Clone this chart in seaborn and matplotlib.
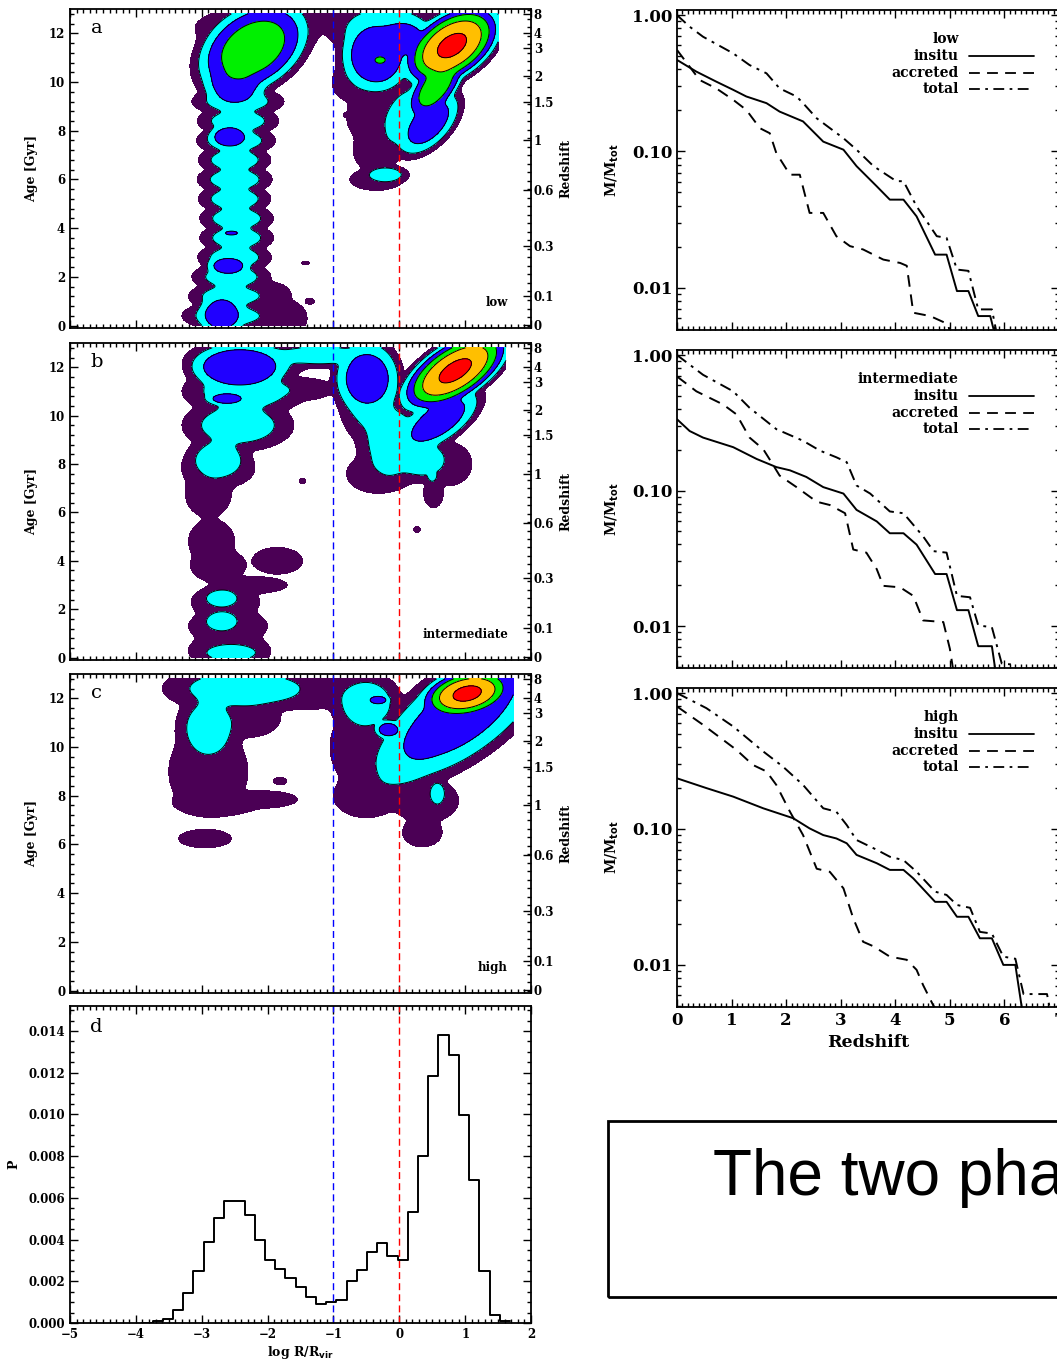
import numpy as np
import pandas as pd
import matplotlib
matplotlib.use("Agg")
import matplotlib.pyplot as plt
import seaborn as sns
from matplotlib.patches import Rectangle
from matplotlib.ticker import MultipleLocator, FixedLocator, NullFormatter, LogLocator

sns.set_style("ticks")
plt.rcParams['font.family'] = ['DejaVu Serif']
plt.rcParams.update({'text.color': 'black', 'axes.labelcolor': 'black',
                     'xtick.color': 'black', 'ytick.color': 'black'})

# ---------------- data ----------------
# contour panels: density components
# (x, age, outer half-width x, outer half-width age, peak level, slant dx/dage)
BLOBS_LOW = [
    (-2.60, 0.4, 0.70, 0.6, 2.6, 0), (-2.58, 1.2, 0.62, 0.6, 2.6, 0), (-2.55, 2.0, 0.60, 0.6, 2.6, 0),
    (-2.50, 2.8, 0.56, 0.6, 2.6, 0), (-2.47, 3.6, 0.56, 0.6, 2.6, 0), (-2.47, 4.4, 0.56, 0.6, 2.6, 0),
    (-2.50, 5.2, 0.55, 0.6, 2.6, 0), (-2.50, 6.0, 0.57, 0.6, 2.6, 0), (-2.50, 6.8, 0.55, 0.6, 2.6, 0),
    (-2.48, 7.6, 0.60, 0.6, 2.6, 0), (-2.45, 8.4, 0.62, 0.6, 2.6, 0), (-2.45, 9.2, 0.70, 0.6, 2.6, 0),
    (-1.80, 0.3, 0.40, 0.8, 1.6, 0), (-2.00, 1.3, 0.35, 0.5, 1.6, 0),
    (-2.70, 0.45, 0.42, 1.0, 4.5, 0), (-2.60, 2.45, 0.38, 0.5, 4.5, 0), (-2.55, 3.8, 0.15, 0.13, 4.5, 0),
    (-2.58, 7.75, 0.38, 0.63, 4.5, 0),
    (-2.22, 11.4, 0.90, 2.2, 7.0, 0.15), (-2.50, 9.9, 0.55, 1.2, 4.5, 0), (-2.15, 12.2, 0.95, 0.9, 1.6, 0),
    (-1.10, 12.75, 0.35, 0.25, 1.6, 0),
    (0.80, 11.5, 0.75, 1.9, 11.5, 0.2), (0.55, 9.8, 0.40, 1.5, 7.0, 0.2), (0.45, 8.3, 0.45, 1.5, 4.5, 0.2),
    (-0.35, 11.1, 0.62, 1.8, 5.0, 0), (0.05, 11.8, 0.50, 1.0, 4.5, 0), (-0.29, 10.9, 0.12, 0.2, 7.0, 0),
    (-0.20, 12.2, 0.90, 1.2, 2.6, 0),
    (0.10, 8.6, 0.45, 1.6, 2.6, 0.1), (-0.72, 10.0, 0.30, 0.8, 1.6, 0),
    (-0.50, 8.6, 0.30, 1.0, 1.6, 0), (-0.35, 7.2, 0.35, 0.9, 1.6, 0), (-0.35, 6.0, 0.40, 0.45, 1.6, 0),
    (-0.20, 6.2, 0.35, 0.40, 2.6, 0),
    (-1.42, 2.57, 0.06, 0.08, 1.6, 0), (-1.36, 1.0, 0.07, 0.12, 1.6, 0), (-0.80, 8.65, 0.05, 0.09, 1.6, 0),
]
BLOBS_INT = [
    (-2.58, 0.3, 0.62, 0.7, 1.6, 0), (-2.60, 1.3, 0.60, 0.7, 1.6, 0), (-2.64, 2.3, 0.52, 0.7, 1.6, 0),
    (-2.25, 3.0, 0.55, 0.35, 1.6, 0), (-2.75, 3.8, 0.42, 0.7, 1.6, 0), (-2.85, 4.8, 0.35, 0.9, 1.6, 0),
    (-1.85, 4.0, 0.38, 0.55, 1.6, 0),
    (-2.55, 0.2, 0.52, 0.46, 2.6, 0), (-2.70, 1.5, 0.32, 0.53, 2.6, 0), (-2.70, 2.45, 0.32, 0.48, 2.6, 0),
    (-2.90, 6.8, 0.35, 1.0, 1.6, 0), (-2.75, 7.8, 0.55, 0.8, 1.6, 0),
    (-2.75, 8.2, 0.50, 1.0, 2.6, 0), (-2.45, 9.6, 0.85, 1.1, 2.6, 0), (-2.35, 11.0, 0.95, 1.0, 2.6, 0),
    (-2.30, 12.3, 0.95, 0.9, 2.6, 0), (-1.20, 12.5, 0.80, 0.55, 2.6, 0),
    (-1.45, 11.1, 0.45, 0.45, 1.6, 0),
    (-2.43, 12.0, 0.85, 1.1, 5.3, 0), (-2.62, 10.7, 0.36, 0.33, 4.5, 0),
    (-0.45, 11.0, 0.50, 2.2, 2.6, 0), (-0.10, 8.9, 0.55, 1.9, 2.6, 0), (0.35, 8.2, 0.45, 1.0, 2.6, 0),
    (-0.35, 7.6, 0.45, 0.8, 1.6, 0), (0.75, 8.0, 0.35, 0.9, 1.6, 0), (0.52, 6.8, 0.15, 0.6, 1.6, 0),
    (0.50, 7.5, 0.09, 0.3, 2.6, 0),
    (-0.49, 11.55, 0.56, 1.7, 4.5, 0), (0.60, 9.8, 0.55, 1.5, 4.5, 0.3),
    (0.85, 11.85, 0.74, 1.9, 11.5, 0.3),
    (-1.47, 7.3, 0.05, 0.10, 1.6, 0), (0.27, 5.3, 0.05, 0.12, 1.6, 0), (-0.01, 8.45, 0.07, 0.15, 1.6, 0),
]
BLOBS_HIGH = [
    (-2.40, 12.4, 1.20, 1.0, 2.6, 0), (-2.90, 10.8, 0.50, 1.5, 2.6, 0),
    (-2.90, 9.0, 0.60, 1.8, 1.6, 0), (-2.75, 7.7, 0.65, 0.5, 1.6, 0), (-2.05, 7.85, 0.50, 0.35, 1.6, 0),
    (-2.30, 11.2, 0.50, 0.8, 1.6, 0), (-1.40, 12.3, 0.90, 0.75, 1.6, 0), (-2.95, 6.24, 0.40, 0.38, 1.6, 0),
    (-1.81, 8.6, 0.10, 0.15, 1.6, 0),
    (-0.60, 10.0, 0.45, 1.6, 1.6, 0), (-0.50, 8.0, 0.50, 0.9, 1.6, 0), (0.35, 6.5, 0.30, 0.6, 1.6, 0),
    (0.40, 7.8, 0.50, 0.9, 1.6, 0),
    (-0.50, 11.8, 0.55, 1.3, 2.6, 0), (0.20, 9.9, 0.60, 2.0, 2.6, 0.2), (0.58, 8.1, 0.15, 0.6, 2.6, 0),
    (0.95, 11.4, 1.10, 3.2, 4.5, 0.3), (-0.32, 11.93, 0.20, 0.25, 4.5, 0), (-0.17, 10.72, 0.24, 0.44, 4.5, 0),
    (1.03, 12.2, 0.75, 1.15, 11.5, 0.2),
]
PANEL_XMAX = [1.5, 1.62, 1.73]
PANEL_NAMES = ["low", "intermediate", "high"]
PANEL_LETTERS = ["a", "b", "c"]
LEVELS = [1, 2, 3.5, 5.5, 8, 11, 1e6]
LEVEL_COLORS = ["#4b0055", "#00ffff", "#2000ff", "#00f000", "#ffbf00", "#ff0000"]

REDSHIFT_LABELS = ["0", "0.1", "0.3", "0.6", "1", "1.5", "2", "3", "4", "8"]
REDSHIFT_AGES = [0.04, 1.23, 3.28, 5.55, 7.6, 9.2, 10.25, 11.4, 12.0, 12.8]

# histogram (panel d)
HIST_P = [0.00002, 0.0001, 0.0002, 0.00064, 0.00144, 0.0025, 0.0039, 0.00504, 0.00584, 0.00584,
          0.0052, 0.0040, 0.00304, 0.0026, 0.00216, 0.00173, 0.00123, 0.00093, 0.0010, 0.00112,
          0.0020, 0.00253, 0.0034, 0.00384, 0.00323, 0.00304, 0.00533, 0.00803, 0.01184, 0.0138,
          0.01285, 0.00995, 0.00685, 0.0025, 0.0004, 0.0001]
HIST_LO, HIST_HI = -3.9, 1.68

# mass fraction panels
LOW_INSITU_Z = [0, 0.355, 0.72, 1.03, 1.27, 1.64, 1.88, 2.31, 2.68, 3.05, 3.29, 3.66, 3.90, 4.15, 4.39, 4.73, 4.94, 5.13, 5.34, 5.52, 5.74, 5.86]
LOW_INSITU_M = [0.469, 0.385, 0.325, 0.283, 0.253, 0.226, 0.196, 0.166, 0.118, 0.103, 0.078, 0.0555, 0.0443, 0.0443, 0.0334, 0.0175, 0.0175, 0.00946, 0.00946, 0.0062, 0.0062, 0.004]
LOW_ACC_Z = [0, 0.416, 0.72, 1.03, 1.27, 1.52, 1.70, 1.82, 2.07, 2.25, 2.43, 2.68, 2.92, 3.17, 3.41, 3.78, 4.09, 4.21, 4.33, 4.64, 4.97, 5.03]
LOW_ACC_M = [0.555, 0.334, 0.29, 0.239, 0.2017, 0.148, 0.136, 0.0972, 0.0675, 0.0675, 0.0354, 0.0354, 0.0239, 0.0202, 0.0191, 0.0161, 0.0152, 0.0145, 0.00656, 0.0062, 0.0054, 0.004]
LOW_TOT_Z = [0, 0.232, 0.477, 1.03, 1.33, 1.64, 1.88, 2.19, 2.31, 2.56, 3.05, 3.29, 3.60, 4.02, 4.15, 4.39, 4.76, 4.94, 5.13, 5.34, 5.52, 5.77, 5.89]
LOW_TOT_M = [1.0, 0.822, 0.694, 0.524, 0.43, 0.374, 0.29, 0.253, 0.226, 0.175, 0.125, 0.103, 0.078, 0.0605, 0.0605, 0.0396, 0.0239, 0.0232, 0.0136, 0.0133, 0.00694, 0.00694, 0.004]

INT_INSITU_Z = [0, 0.232, 0.477, 1.03, 1.46, 1.82, 2.07, 2.37, 2.68, 3.05, 3.29, 3.66, 3.90, 4.15, 4.39, 4.73, 4.94, 5.13, 5.34, 5.52, 5.77, 5.86]
INT_INSITU_M = [0.336, 0.275, 0.246, 0.209, 0.171, 0.149, 0.141, 0.126, 0.106, 0.095, 0.072, 0.0592, 0.0484, 0.0484, 0.0399, 0.0242, 0.0242, 0.0131, 0.0131, 0.0071, 0.0071, 0.004]
INT_ACC_Z = [0, 0.355, 0.844, 1.09, 1.33, 1.58, 1.73, 1.88, 2.19, 2.56, 2.80, 3.08, 3.23, 3.47, 3.66, 3.78, 4.09, 4.33, 4.51, 4.88, 5.00, 5.09]
INT_ACC_M = [0.695, 0.54, 0.432, 0.365, 0.246, 0.202, 0.162, 0.129, 0.106, 0.0827, 0.0782, 0.068, 0.0367, 0.0348, 0.0263, 0.0198, 0.0193, 0.0167, 0.011, 0.0107, 0.0068, 0.004]
INT_TOT_Z = [0, 0.477, 1.03, 1.33, 1.82, 2.31, 2.62, 2.92, 3.11, 3.29, 3.54, 3.90, 4.15, 4.51, 4.70, 4.94, 5.13, 5.37, 5.52, 5.77, 5.95, 6.13, 6.2]
INT_TOT_M = [1.0, 0.715, 0.54, 0.408, 0.284, 0.233, 0.197, 0.176, 0.162, 0.109, 0.095, 0.0701, 0.068, 0.0459, 0.0357, 0.0348, 0.0167, 0.0163, 0.0101, 0.0098, 0.0053, 0.0052, 0.004]

HIGH_INSITU_Z = [0, 0.538, 1.03, 1.58, 2.13, 2.43, 2.68, 2.92, 3.11, 3.29, 3.66, 3.90, 4.15, 4.33, 4.73, 4.94, 5.13, 5.34, 5.55, 5.77, 5.98, 6.20, 6.35]
HIGH_INSITU_M = [0.236, 0.2, 0.173, 0.142, 0.12, 0.101, 0.0902, 0.0852, 0.0785, 0.0645, 0.056, 0.05, 0.05, 0.0433, 0.0291, 0.0291, 0.0226, 0.0226, 0.0157, 0.0157, 0.01, 0.01, 0.004]
HIGH_ACC_Z = [0, 0.477, 0.844, 1.09, 1.39, 1.64, 1.82, 2.07, 2.31, 2.56, 2.80, 3.05, 3.23, 3.41, 3.60, 3.90, 4.21, 4.39, 4.51, 4.70, 4.9]
HIGH_ACC_M = [0.797, 0.584, 0.453, 0.382, 0.296, 0.265, 0.211, 0.134, 0.0902, 0.051, 0.0484, 0.0366, 0.022, 0.0148, 0.0137, 0.0115, 0.0109, 0.0092, 0.0071, 0.005, 0.004]
HIGH_TOT_Z = [0, 0.538, 1.03, 1.58, 1.94, 2.31, 2.68, 2.92, 3.11, 3.29, 3.66, 3.90, 4.15, 4.39, 4.73, 4.94, 5.13, 5.37, 5.55, 5.77, 5.98, 6.20, 6.35, 6.78, 6.87]
HIGH_TOT_M = [1.0, 0.775, 0.568, 0.372, 0.288, 0.211, 0.142, 0.134, 0.107, 0.083, 0.0703, 0.0625, 0.059, 0.0485, 0.0346, 0.0327, 0.0276, 0.0263, 0.0175, 0.017, 0.0115, 0.0111, 0.0061, 0.0061, 0.004]

MASS_PANELS = [
    ("low", LOW_INSITU_Z, LOW_INSITU_M, LOW_ACC_Z, LOW_ACC_M, LOW_TOT_Z, LOW_TOT_M),
    ("intermediate", INT_INSITU_Z, INT_INSITU_M, INT_ACC_Z, INT_ACC_M, INT_TOT_Z, INT_TOT_M),
    ("high", HIGH_INSITU_Z, HIGH_INSITU_M, HIGH_ACC_Z, HIGH_ACC_M, HIGH_TOT_Z, HIGH_TOT_M),
]
REDSHIFT_TICKS = [0, 1, 2, 3, 4, 5, 6, 7]
BANNER = "The two phases of galaxy formation"

# ---------------- layout ----------------
W, H = 1057, 1367
fig = plt.figure(figsize=(W / 100, H / 100), dpi=100)


def box(x0, y0, x1, y1):
    return [x0 / W, 1 - y1 / H, (x1 - x0) / W, (y1 - y0) / H]


TICKFONT = dict(family='DejaVu Serif', weight='bold', size=8.5)


def style_axes(ax, right=True):
    ax.tick_params(which='both', direction='in', top=True, right=right, colors='k', width=1.0)
    ax.tick_params(which='major', length=6)
    ax.tick_params(which='minor', length=3)
    for s in ax.spines.values():
        s.set_linewidth(1.3)
        s.set_color('k')
        s.set_visible(True)


def field(blobs, X, Y, p=4.0, q=3.0):
    acc = np.zeros_like(X)
    for (x0, y0, rx, ry, a, sl) in blobs:
        r = np.sqrt(((X - x0 - sl * (Y - y0)) / rx) ** 2 + ((Y - y0) / ry) ** 2)
        f = a * np.exp(-np.log(a) * r ** q)
        acc += f ** p
    return acc ** (1.0 / p)


left_boxes = [(70, 9, 531, 328), (70, 343, 531, 660), (70, 674, 531, 993)]
for i, blobs in enumerate([BLOBS_LOW, BLOBS_INT, BLOBS_HIGH]):
    ax = fig.add_axes(box(*left_boxes[i]))
    xs = np.linspace(-5, PANEL_XMAX[i], 600)
    ys = np.linspace(0, 12.8, 450)
    X, Y = np.meshgrid(xs, ys)
    F = field(blobs, X, Y)
    ax.contourf(X, Y, F, levels=LEVELS, colors=LEVEL_COLORS)
    ax.contour(X, Y, F, levels=LEVELS[1:-1], colors='k', linewidths=0.7)
    ax.axvline(-1, color='#0000ff', lw=1.0, dashes=(5, 3))
    ax.axvline(0, color='#ff0000', lw=1.0, dashes=(5, 3))
    ax.set_xlim(-5, 2)
    ax.set_ylim(-0.1, 13)
    style_axes(ax, right=False)
    ax.xaxis.set_major_locator(MultipleLocator(1))
    ax.xaxis.set_minor_locator(MultipleLocator(0.1))
    ax.xaxis.set_major_formatter(NullFormatter())
    ax.yaxis.set_major_locator(MultipleLocator(2))
    ax.yaxis.set_minor_locator(MultipleLocator(0.4))
    for lab in ax.get_yticklabels():
        lab.set(**TICKFONT)
    ax.set_ylabel("Age [Gyr]", fontsize=9, fontweight='bold', labelpad=8)
    ax.text(-4.6, 12.2, PANEL_LETTERS[i], fontsize=14, va='center', ha='center')
    ax.text(1.65, 0.95, PANEL_NAMES[i], fontsize=8.5, fontweight='bold', ha='right', va='center')
    tw = ax.twinx()
    tw.set_ylim(ax.get_ylim())
    tw.yaxis.set_major_locator(FixedLocator(REDSHIFT_AGES))
    tw.set_yticklabels(REDSHIFT_LABELS)
    tw.yaxis.set_minor_locator(MultipleLocator(0.35))
    tw.tick_params(which='both', direction='in', right=True, colors='k', width=1.0, pad=2)
    tw.tick_params(which='major', length=6)
    tw.tick_params(which='minor', length=3)
    for lab in tw.get_yticklabels():
        lab.set(**TICKFONT)
    tw.set_ylabel("Redshift", fontsize=9, fontweight='bold', labelpad=4)
    for s in tw.spines.values():
        s.set_visible(False)

# histogram panel d
axd = fig.add_axes(box(70, 1006, 531, 1323))
nb = len(HIST_P)
bw = (HIST_HI - HIST_LO) / nb
hist_df = pd.DataFrame({"logr": [HIST_LO + (k + 0.5) * bw for k in range(nb)], "p": HIST_P})
sns.histplot(data=hist_df, x="logr", weights="p", binwidth=bw, binrange=(HIST_LO, HIST_HI),
             element='step', fill=False, color='k', linewidth=1.4, ax=axd)
axd.axvline(-1, color='#0000ff', lw=1.0, dashes=(5, 3))
axd.axvline(0, color='#ff0000', lw=1.0, dashes=(5, 3))
axd.set_xlim(-5, 2)
axd.set_ylim(0, 0.0152)
style_axes(axd)
axd.xaxis.set_major_locator(MultipleLocator(1))
axd.xaxis.set_minor_locator(MultipleLocator(0.1))
axd.yaxis.set_major_locator(MultipleLocator(0.002))
axd.yaxis.set_minor_locator(MultipleLocator(0.0005))
axd.yaxis.set_major_formatter(matplotlib.ticker.FormatStrFormatter('%.3f'))
axd.xaxis.set_major_formatter(matplotlib.ticker.FuncFormatter(lambda v, p: f"{int(round(v))}".replace('-', '\u2212')))
for lab in axd.get_xticklabels() + axd.get_yticklabels():
    lab.set(**TICKFONT)
axd.set_ylabel("P", fontsize=9, fontweight='bold', labelpad=6)
axd.set_xlabel(r"log R/R$_{\mathbf{vir}}$", fontsize=9, fontweight='bold', labelpad=2)
axd.text(-4.6, 0.0142, "d", fontsize=14, va='center', ha='center')

# mass fraction panels
right_boxes = [(677, 10, 1059, 330), (677, 350, 1059, 668), (677, 688, 1059, 1007)]
for i, (name, zi, mi, za, ma, zt, mt) in enumerate(MASS_PANELS):
    ax = fig.add_axes(box(*right_boxes[i]))
    sns.lineplot(x=zi, y=mi, ax=ax, color='k', lw=1.4, sort=False, estimator=None)
    sns.lineplot(x=za, y=ma, ax=ax, color='k', lw=1.4, sort=False, estimator=None)
    ax.get_lines()[-1].set_dashes([6, 4])
    sns.lineplot(x=zt, y=mt, ax=ax, color='k', lw=1.4, sort=False, estimator=None)
    ax.get_lines()[-1].set_dashes([6, 3, 1.5, 3])
    ax.set_yscale('log')
    ax.set_xlim(0, 7)
    ax.set_ylim(0.0049, 1.09)
    style_axes(ax)
    ax.xaxis.set_major_locator(FixedLocator(REDSHIFT_TICKS))
    ax.xaxis.set_minor_locator(MultipleLocator(0.1))
    ax.yaxis.set_major_locator(FixedLocator([0.01, 0.1, 1.0]))
    ax.yaxis.set_minor_locator(LogLocator(base=10, subs=np.arange(2, 10) * 1.0))
    ax.yaxis.set_minor_formatter(NullFormatter())
    ax.set_yticklabels(["0.01", "0.10", "1.00"])
    for lab in ax.get_yticklabels():
        lab.set(family='DejaVu Serif', weight='bold', size=12)
    if i == 2:
        ax.set_xticklabels([str(k) for k in REDSHIFT_TICKS])
        for lab in ax.get_xticklabels():
            lab.set(family='DejaVu Serif', weight='bold', size=12)
        ax.set_xlabel("Redshift", fontsize=12.5, fontweight='bold', labelpad=4)
    else:
        ax.xaxis.set_major_formatter(NullFormatter())
        ax.set_xlabel("")
    ax.set_ylabel(r"M/M$_{\mathbf{tot}}$", fontsize=10, fontweight='bold', labelpad=8)
    ty = [0.909, 0.856, 0.803, 0.753]
    tx = 0.738
    ax.text(tx, ty[0], name, transform=ax.transAxes, ha='right', va='center', fontsize=10, fontweight='bold')
    for lbl, yy, dash in zip(["insitu", "accreted", "total"], ty[1:], [None, [6, 4], [6, 3, 1.5, 3]]):
        ax.text(tx, yy, lbl, transform=ax.transAxes, ha='right', va='center', fontsize=10, fontweight='bold')
        ln, = ax.plot([0.764, 0.934], [yy, yy], transform=ax.transAxes, color='k', lw=1.3)
        if dash:
            ln.set_dashes(dash)

# banner box
fig.add_artist(Rectangle((608 / W, 1 - 1297 / H), (1090 - 608) / W, (1297 - 1121) / H,
                         transform=fig.transFigure, fill=False, lw=2, ec='k'))
fig.text(713 / W, 1 - 1195 / H, BANNER, fontsize=46, family='Liberation Sans', color='black',
         ha='left', va='baseline')

fig.savefig("out.png", dpi=100)
